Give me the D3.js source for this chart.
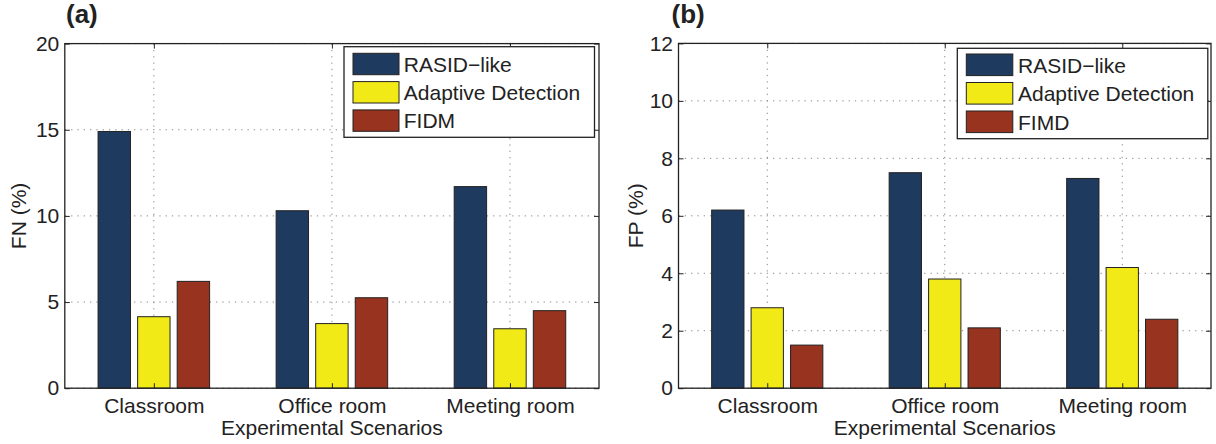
<!DOCTYPE html>
<html>
<head>
<meta charset="utf-8">
<script src="https://cdn.jsdelivr.net/npm/d3@7"></script>
<style>
  body { margin: 0; background: #fff; }
  svg text { font-family: "Liberation Sans", Arial, Helvetica, sans-serif; fill: #222; }
</style>
</head>
<body>
<svg id="chart" width="1216" height="444"></svg>
<script>
// Scenario categories shared by both panels
const scenarios = ["Classroom", "Office room", "Meeting room"];

// Panel (a): false negatives (%)
const fnRasid    = [14.9, 10.3, 11.7];
const fnAdaptive = [4.15, 3.75, 3.45];
const fnFidm     = [6.2, 5.25, 4.5];
const fnTicks    = [0, 5, 10, 15, 20];
const fnNames    = ["RASID\u2212like", "Adaptive Detection", "FIDM"];

// Panel (b): false positives (%)
const fpRasid    = [6.2, 7.5, 7.3];
const fpAdaptive = [2.8, 3.8, 4.2];
const fpFimd     = [1.5, 2.1, 2.4];
const fpTicks    = [0, 2, 4, 6, 8, 10, 12];
const fpNames    = ["RASID\u2212like", "Adaptive Detection", "FIMD"];

const seriesColors = ["#1e3a5e", "#f2ea17", "#97331f"];

const svg = d3.select("#chart");

function drawPanel(p) {
  const x = d3.scaleLinear().domain([0.5, 3.5]).range([p.left, p.right]);
  const y = d3.scaleLinear().domain([0, p.yMax]).range([p.bottom, p.top]);
  const g = svg.append("g");

  // dotted grid
  g.append("g").selectAll("line").data(p.ticks).join("line")
    .attr("x1", p.left).attr("x2", p.right)
    .attr("y1", d => y(d)).attr("y2", d => y(d))
    .attr("stroke", "#8a8a8a").attr("stroke-width", 1).attr("stroke-dasharray", "1.3,5");
  g.append("g").selectAll("line").data([1, 2, 3]).join("line")
    .attr("x1", d => x(d)).attr("x2", d => x(d))
    .attr("y1", p.top).attr("y2", p.bottom)
    .attr("stroke", "#8a8a8a").attr("stroke-width", 1).attr("stroke-dasharray", "1.3,5");

  // grouped bars
  const slot = 0.2222, barW = 0.182;
  const bw = x(barW) - x(0);
  p.series.forEach((vals, s) => {
    g.append("g").selectAll("rect").data(vals).join("rect")
      .attr("x", (d, i) => x(i + 1 + (s - 1) * slot) - bw / 2)
      .attr("width", bw)
      .attr("y", d => y(d))
      .attr("height", d => y(0) - y(d))
      .attr("fill", seriesColors[s])
      .attr("stroke", "#222").attr("stroke-width", 1);
  });

  // axes (inward ticks on all four sides)
  const left = g.append("g").attr("transform", `translate(${p.left},0)`)
    .call(d3.axisLeft(y).tickValues(p.ticks).tickSize(-5).tickPadding(5.5));
  const right = g.append("g").attr("transform", `translate(${p.right},0)`)
    .call(d3.axisRight(y).tickValues(p.ticks).tickSize(-5).tickFormat(""));
  const bottom = g.append("g").attr("transform", `translate(0,${p.bottom})`)
    .call(d3.axisBottom(x).tickValues([1, 2, 3]).tickSize(-5).tickPadding(10)
      .tickFormat(d => scenarios[d - 1]));
  const top = g.append("g").attr("transform", `translate(0,${p.top})`)
    .call(d3.axisTop(x).tickValues([1, 2, 3]).tickSize(-5).tickFormat(""));
  [left, right, bottom, top].forEach(a => {
    a.select(".domain").remove();
    a.selectAll(".tick line").attr("stroke", "#222");
  });
  left.selectAll("text").attr("font-size", 21).style("fill", "#222");
  bottom.selectAll("text").attr("font-size", 21).style("fill", "#222");

  // plot frame
  g.append("rect").attr("x", p.left).attr("y", p.top)
    .attr("width", p.right - p.left).attr("height", p.bottom - p.top)
    .attr("fill", "none").attr("stroke", "#222").attr("stroke-width", 1.3);

  // axis titles
  g.append("text")
    .attr("transform", `translate(${p.yTitleX},${(p.top + p.bottom) / 2}) rotate(-90)`)
    .attr("text-anchor", "middle").attr("font-size", 21).text(p.yTitle);
  g.append("text")
    .attr("x", (p.left + p.right) / 2).attr("y", 435)
    .attr("text-anchor", "middle").attr("font-size", 21).text("Experimental Scenarios");

  // panel letter
  g.append("text").attr("x", p.letterX).attr("y", 23)
    .attr("font-size", 26).attr("font-weight", "bold").text(p.letter);

  // legend
  const L = p.legend;
  const lg = g.append("g");
  lg.append("rect").attr("x", L.x).attr("y", L.y).attr("width", L.w).attr("height", L.h)
    .attr("fill", "#fff").attr("stroke", "#222").attr("stroke-width", 1.3);
  p.names.forEach((name, s) => {
    const ry = L.rowY + s * L.rowStep;
    lg.append("rect").attr("x", L.swX).attr("y", ry).attr("width", L.swW).attr("height", L.swH)
      .attr("fill", seriesColors[s]).attr("stroke", "#222").attr("stroke-width", 1);
    lg.append("text").attr("x", L.textX).attr("y", ry + L.swH / 2)
      .attr("dy", "0.37em").attr("font-size", 21).text(name);
  });
}

drawPanel({
  left: 64.8, right: 599, top: 43.6, bottom: 388.2, yMax: 20,
  ticks: fnTicks, series: [fnRasid, fnAdaptive, fnFidm], names: fnNames,
  yTitle: "FN (%)", yTitleX: 26,
  letter: "(a)", letterX: 66,
  legend: { x: 344, y: 46.7, w: 250.5, h: 90.6, swX: 353, swW: 46, swH: 21.4,
            rowY: 53.3, rowStep: 28.3, textX: 403.8 }
});

drawPanel({
  left: 678.5, right: 1211, top: 43.4, bottom: 388.2, yMax: 12,
  ticks: fpTicks, series: [fpRasid, fpAdaptive, fpFimd], names: fpNames,
  yTitle: "FP (%)", yTitleX: 643.3,
  letter: "(b)", letterX: 671.5,
  legend: { x: 957.3, y: 48.3, w: 250.5, h: 90.4, swX: 966.3, swW: 46.5, swH: 21.6,
            rowY: 54, rowStep: 28.5, textX: 1018 }
});
</script>
</body>
</html>
